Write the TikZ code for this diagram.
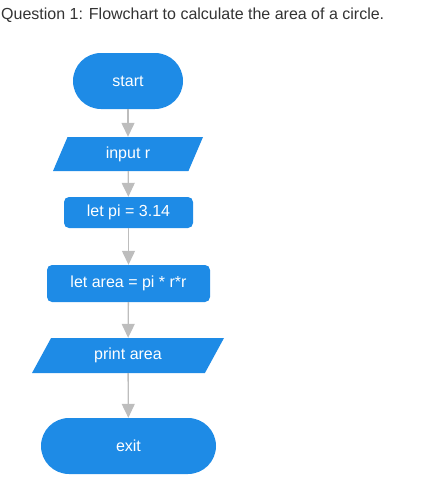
\documentclass[tikz,border=0pt]{standalone}
\usepackage{fontspec}
\setmainfont{Liberation Sans}
\usepackage{tikz}
\usetikzlibrary{shapes.geometric}
\usetikzlibrary{arrows.meta}
\definecolor{flowblue}{HTML}{1E8BE6}
\definecolor{flowgray}{HTML}{BDBDBD}
\definecolor{titlegray}{HTML}{333333}
\tikzset{
    terminal/.style={shape=rectangle, rounded corners=28pt, fill=flowblue, text=white, minimum height=56pt},
    process/.style={shape=rectangle, rounded corners=5pt, fill=flowblue, text=white},
    inout/.style={shape=trapezium, trapezium stretches body, fill=flowblue, text=white},
    flow/.style={draw=flowgray, line width=1.3pt, -{Triangle[width=13pt, length=14pt]}}}

\begin{document}
\begin{tikzpicture}[x=1pt, y=-1pt, font=\fontsize{16}{19}\selectfont]

                    \useasboundingbox (0,0) rectangle (430,488);

                    \node[anchor=base west, inner sep=0pt, text=titlegray] (title) at (1,19) {Question 1: Flowchart to calculate the area of a circle.};

                    \node[terminal, minimum width=110pt] (start) at (128,81) {start};
                    \node[inout, trapezium left angle=56, trapezium right angle=124, minimum width=150pt, minimum height=34pt] (input) at (128,154) {input r};
                    \node[process, minimum width=129pt, minimum height=31pt] (pi) at (128.5,212.5) {let pi = 3.14};
                    \node[process, minimum width=163pt, minimum height=37pt] (area) at (128.5,283.5) {let area = pi * r*r};
                    \node[inout, trapezium left angle=48.5, trapezium right angle=131.5, minimum width=192pt, minimum height=35pt] (print) at (128,355.5) {print area};
                    \node[terminal, minimum width=175pt] (exit) at (128.5,446) {exit};

                    \draw[flow] (start) -- (input);
                    \draw[flow] (input) -- (pi);
                    \draw[flow] (pi) -- (area);
                    \draw[flow] (area) -- (print);
                    \draw[flow] (print) -- (exit);

                \end{tikzpicture}
\end{document}
